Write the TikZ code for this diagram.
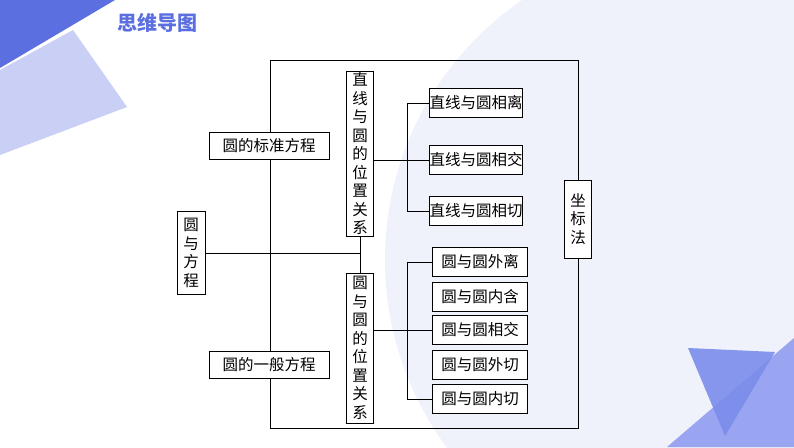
\documentclass[tikz,border=0pt]{standalone}
\usepackage{fontspec}
\newfontfamily\cjk{Noto Sans CJK SC}
\definecolor{dk}{HTML}{5B6FE0}
\definecolor{lt}{HTML}{C9CFF5}
\definecolor{bg}{HTML}{EFF1FB}
\definecolor{tri}{HTML}{7B8DEB}
\definecolor{tri2}{HTML}{9AA5F2}
\begin{document}
\begin{tikzpicture}[x=1pt,y=-1pt,
  bx/.style={draw,thick,fill=white,inner sep=0pt,font=\cjk\fontsize{15.5}{17.5}\selectfont},
  vb/.style={bx,align=center,font=\cjk\fontsize{15.5}{18.5}\selectfont},
  ln/.style={thick}]
\useasboundingbox (0,0) rectangle (794,447);
\clip (0,0) rectangle (794,447);
\fill[bg] (700,260) circle (315);
\fill[lt] (0,70) -- (73,30) -- (127,107) -- (0,155) -- cycle;
\fill[dk] (0,0) -- (115,0) -- (0,68) -- cycle;
\fill[tri2] (667,447) -- (794,338) -- (794,447) -- cycle;
\fill[tri,opacity=0.9] (688,348) -- (775,352) -- (725,436) -- cycle;
\node[font=\cjk\bfseries\fontsize{20}{22}\selectfont,text=dk] (t) at (157,23) {思维导图};
% boxes
\node[vb,minimum width=28pt,minimum height=83pt] (ry) at (191,253) {圆\\与\\方\\程};
\node[bx,minimum width=120pt,minimum height=27pt] (bz) at (269,146) {圆的标准方程};
\node[bx,minimum width=120pt,minimum height=27pt] (yb) at (269,365) {圆的一般方程};
\node[vb,minimum width=27pt,minimum height=165pt] (zx) at (360,154) {直\\线\\与\\圆\\的\\位\\置\\关\\系};
\node[vb,minimum width=27pt,minimum height=150pt] (yy) at (360,348) {圆\\与\\圆\\的\\位\\置\\关\\系};
\node[vb,minimum width=27pt,minimum height=78pt] (zb) at (578,219) {坐\\标\\法};
\foreach \n/\y/\t in {a/103/直线与圆相离,b/160/直线与圆相交,c/211/直线与圆相切}
  \node[bx,minimum width=93pt,minimum height=29pt] (\n) at (476,\y) {\t};
\foreach \n/\y/\t in {d/262/圆与圆外离,e/297/圆与圆内含,f/330/圆与圆相交,g/365/圆与圆外切,h/399/圆与圆内切}
  \node[bx,minimum width=95pt,minimum height=29pt] (\n) at (480,\y) {\t};
% connectors
\coordinate (tl) at (270,60); \coordinate (tr) at (578,60);
\coordinate (bl) at (270,428); \coordinate (br) at (578,428);
\draw[ln] (bz.north -| tl) -- (tl) -- (tr) -- (zb.north);
\draw[ln] (zb.south) -- (br) -- (bl) -- (yb.south -| bl);
\draw[ln] (bz.south -| tl) -- (yb.north -| tl);
\draw[ln] (ry.east) -- (361,253);
\draw[ln] (zx.south) -- (yy.north);
\draw[ln] (zx.east |- b) -- (b.west);
\draw[ln] (a.west) -| (407,211) -- (c.west);
\draw[ln] (yy.east |- f) -- (f.west);
\draw[ln] (d.west) -| (407,399) -- (h.west);
\end{tikzpicture}
\end{document}
